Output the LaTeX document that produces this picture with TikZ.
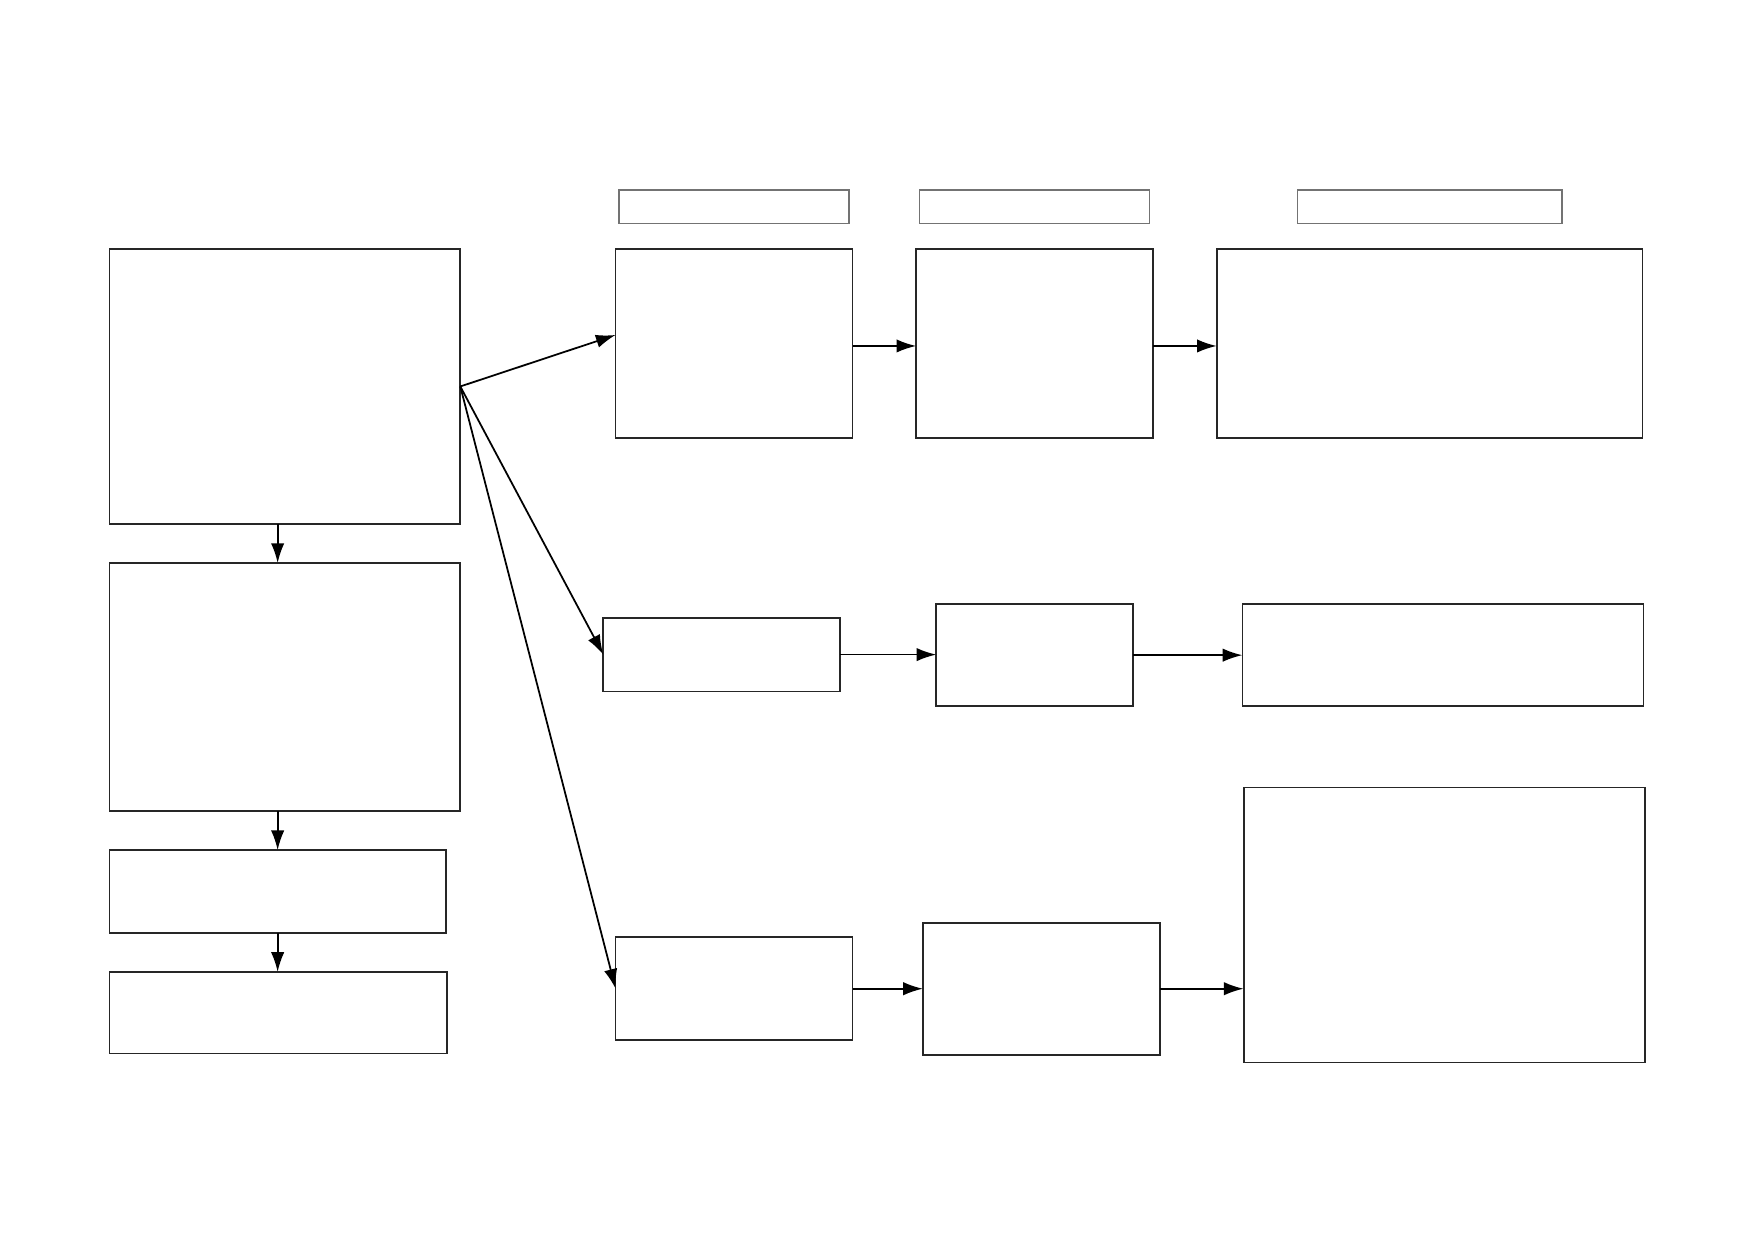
\documentclass[tikz,border=0pt]{standalone}
\usetikzlibrary{arrows.meta,fit,calc}
\begin{document}
\begin{tikzpicture}[x=0.01cm,y=-0.01cm,
  box/.style={draw=black!85,line width=0.5pt,inner sep=0pt,outer sep=0pt,rectangle},
  hdr/.style={draw=black!55,line width=0.4pt,inner sep=0pt,outer sep=0pt,rectangle},
  arr/.style={draw=black,line width=0.5pt,-{Latex[length=5.6pt,width=3.8pt]}}]
\useasboundingbox[fill=white] (0,-1) rectangle (1752,1238);
% left column
\node[box,fit={(109.5,248) (460.3,522.9)}] (A) {};
\node[box,fit={(109.5,562) (460.3,810)}] (B) {};
\node[box,fit={(109.5,849.1) (445.8,931.8)}] (C) {};
\node[box,fit={(109.5,970.9) (446.9,1052.5)}] (D) {};
% headers
\node[hdr,fit={(619,188.8) (849.1,222.3)}] (H1) {};
\node[hdr,fit={(919.5,188.8) (1149.7,222.3)}] (H2) {};
\node[hdr,fit={(1297.2,188.8) (1562,222.3)}] (H3) {};
% row 1
\node[box,fit={(615.6,248) (852.5,436.9)}] (R1a) {};
\node[box,fit={(916.2,248) (1153.1,436.9)}] (R1b) {};
\node[box,fit={(1216.7,248) (1642.4,436.9)}] (R1c) {};
% row 2
\node[box,fit={(603.3,616.7) (840.2,690.5)}] (R2a) {};
\node[box,fit={(936.3,603.3) (1132.9,705)}] (R2b) {};
\node[box,fit={(1242.4,603.3) (1643.5,705)}] (R2c) {};
% row 3
\node[box,fit={(615.6,936.3) (852.5,1039.1)}] (R3a) {};
\node[box,fit={(922.9,921.8) (1159.8,1053.6)}] (R3b) {};
\node[box,fit={(1243.6,786.6) (1644.6,1061.4)}] (R3c) {};
% connectors
\draw[arr] (A.east) -- ([yshift=0.085cm]R1a.west);
\draw[arr] (A.east) -- (R2a.west);
\draw[arr] (A.east) -- (R3a.west);
\draw[arr] (C.north |- A.south) -- (C.north |- B.north);
\draw[arr] (C.north |- B.south) -- (C.north);
\draw[arr] (C.south) -- (C.south |- D.north);
\draw[arr] ([yshift=-0.025cm]R1a.east) -- ([yshift=-0.025cm]R1b.west);
\draw[arr] ([yshift=-0.025cm]R1b.east) -- ([yshift=-0.025cm]R1b.east -| R1c.west);
\draw[arr] (R2a.east) -- (R2a.east -| R2b.west);
\draw[arr] (R2b.east) -- (R2b.east -| R2c.west);
\draw[arr] (R3a.east) -- (R3a.east -| R3b.west);
\draw[arr] (R3b.east) -- (R3b.east -| R3c.west);
\end{tikzpicture}
\end{document}
